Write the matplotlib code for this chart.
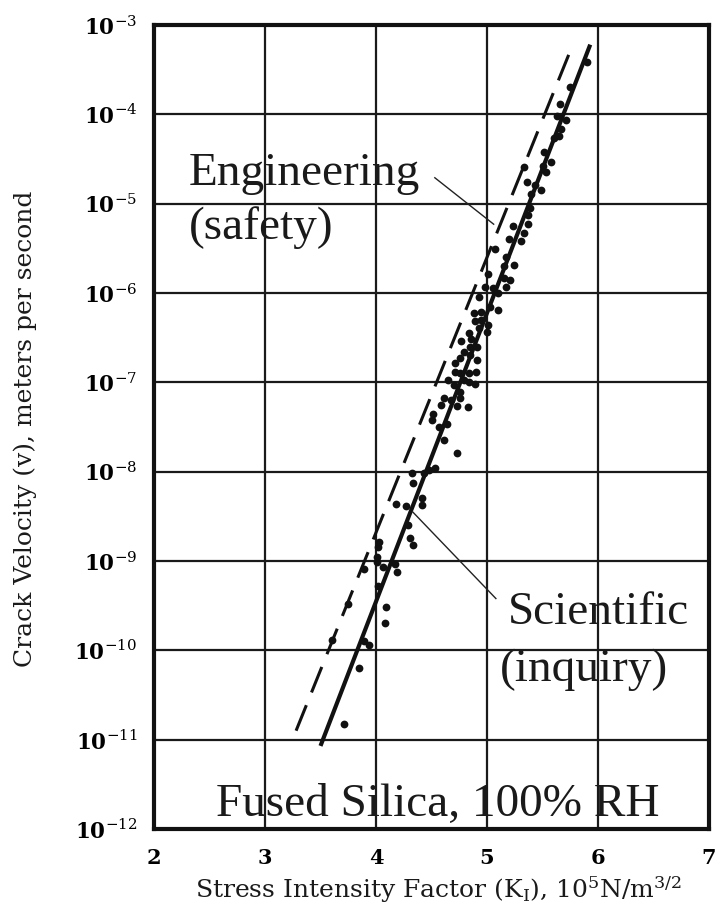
import matplotlib
matplotlib.use("Agg")
import matplotlib.pyplot as plt
from matplotlib.ticker import FixedLocator, FixedFormatter

plt.rcParams['mathtext.fontset'] = 'dejavuserif'

# ---- data ----
stress_k = [5.90, 5.75, 5.66, 5.63, 5.71, 5.67, 5.60, 5.65, 5.51, 5.58,
            5.50, 5.53, 5.33, 5.36, 5.43, 5.49, 5.40, 5.39, 5.37, 5.23,
            5.37, 5.33, 5.20, 5.31, 5.07, 5.17, 5.24, 5.15, 5.01, 5.15,
            5.21, 4.98, 5.05, 5.17, 5.10, 4.93,
            5.03, 5.10, 4.88, 4.95, 4.89, 4.95, 5.01, 4.93, 5.00, 4.84,
            4.86, 4.77, 4.85, 4.91, 4.79, 4.85, 4.71, 4.91, 4.76, 4.71,
            4.76, 4.84, 4.90, 4.65, 4.79, 4.84, 4.89, 4.70, 4.76, 4.76,
            4.61, 4.68, 4.59, 4.73, 4.83, 4.51, 4.50, 4.57, 4.64, 4.61,
            4.73, 4.53, 4.48, 4.43, 4.32, 4.33, 4.41,
            4.41, 4.18, 4.27, 4.29, 4.31, 4.33, 4.03, 4.02, 4.01, 4.01,
            3.89, 4.06, 4.17, 4.19, 4.02, 3.75, 4.09, 4.08, 3.60, 3.89,
            3.94, 3.85, 3.71]
velocity = [3.89e-4, 2.04e-4, 1.32e-4, 9.55e-5, 8.71e-5, 6.92e-5, 5.50e-5, 5.75e-5, 3.80e-5, 2.95e-5,
            2.63e-5, 2.24e-5, 2.57e-5, 1.74e-5, 1.62e-5, 1.41e-5, 1.29e-5, 8.91e-6, 7.41e-6, 5.62e-6,
            5.89e-6, 4.68e-6, 3.98e-6, 3.80e-6, 3.09e-6, 2.51e-6, 2.04e-6, 2.00e-6, 1.62e-6, 1.48e-6,
            1.41e-6, 1.17e-6, 1.15e-6, 1.17e-6, 1.00e-6, 8.91e-7,
            6.92e-7, 6.46e-7, 6.03e-7, 6.17e-7, 4.90e-7, 5.01e-7, 4.37e-7, 4.07e-7, 3.63e-7, 3.55e-7,
            3.02e-7, 2.88e-7, 2.51e-7, 2.51e-7, 2.19e-7, 2.00e-7, 1.66e-7, 1.78e-7, 1.86e-7, 1.29e-7,
            1.26e-7, 1.26e-7, 1.29e-7, 1.05e-7, 1.07e-7, 1.00e-7, 9.55e-8, 9.33e-8, 7.76e-8, 6.76e-8,
            6.61e-8, 6.31e-8, 5.62e-8, 5.50e-8, 5.25e-8, 4.37e-8, 3.80e-8, 3.16e-8, 3.39e-8, 2.24e-8,
            1.62e-8, 1.10e-8, 1.05e-8, 9.77e-9, 9.55e-9, 7.41e-9, 5.13e-9,
            4.27e-9, 4.37e-9, 4.17e-9, 2.51e-9, 1.82e-9, 1.51e-9, 1.62e-9, 1.45e-9, 1.12e-9, 9.77e-10,
            8.13e-10, 8.51e-10, 9.33e-10, 7.59e-10, 5.25e-10, 3.31e-10, 3.09e-10, 2.04e-10, 1.32e-10, 1.26e-10,
            1.15e-10, 6.31e-11, 1.51e-11]

scientific_k = [3.50, 5.93]
scientific_v = [8.51e-12, 6.03e-4]
engineering_k = [3.28, 5.76]
engineering_v = [1.26e-11, 5.50e-4]

eng_leader_k = [4.53, 5.06]
eng_leader_v = [1.95e-5, 5.89e-6]
sci_leader_k = [4.33, 5.08]
sci_leader_v = [3.55e-9, 3.80e-10]

x_ticks = [2, 3, 4, 5, 6, 7]
x_tick_labels = ["2", "3", "4", "5", "6", "7"]
y_ticks = [1e-12, 1e-11, 1e-10, 1e-9, 1e-8, 1e-7, 1e-6, 1e-5, 1e-4, 1e-3]
y_tick_labels = [r"$\mathbf{10}^{-%d}$" % n for n in [12, 11, 10, 9, 8, 7, 6, 5, 4, 3]]

# ---- figure ----
fig = plt.figure(figsize=(7.22, 9.23), dpi=100)
ax = fig.add_axes([154/722, 1-829/923, 555/722, 804/923])
ax.set_yscale('log')
ax.set_xlim(2, 7)
ax.set_ylim(1e-12, 1e-3)

ax.xaxis.set_major_locator(FixedLocator(x_ticks))
ax.xaxis.set_major_formatter(FixedFormatter(x_tick_labels))
ax.yaxis.set_major_locator(FixedLocator(y_ticks))
ax.yaxis.set_major_formatter(FixedFormatter(y_tick_labels))
ax.yaxis.set_minor_locator(FixedLocator([]))
ax.tick_params(axis='both', length=0)
ax.tick_params(axis='x', pad=14, labelsize=15)
ax.tick_params(axis='y', pad=12, labelsize=15.5)
for lab in ax.get_xticklabels():
    lab.set_fontfamily('DejaVu Serif')
    lab.set_fontweight('bold')

ax.grid(True, which='major', color='#1a1a1a', linewidth=1.6)
ax.set_axisbelow(True)
for s in ax.spines.values():
    s.set_linewidth(3)
    s.set_color('#111111')

ax.plot(scientific_k, scientific_v, color='#111111', lw=3, solid_capstyle='butt')
ax.plot(engineering_k, engineering_v, color='#111111', lw=2.2, dashes=(9, 4.5))
ax.plot(stress_k, velocity, 'o', color='#111111', ms=5.6, mew=0)
ax.plot(eng_leader_k, eng_leader_v, color='#222222', lw=1)
ax.plot(sci_leader_k, sci_leader_v, color='#222222', lw=1)

serif = 'Liberation Serif'
ax.text(2.31, 10**-4.79, "Engineering", fontsize=34, family=serif, color='#1a1a1a')
ax.text(2.31, 10**-5.39, "(safety)", fontsize=34, family=serif, color='#1a1a1a')
ax.text(5.19, 10**-9.70, "Scientific", fontsize=34, family=serif, color='#1a1a1a')
ax.text(5.12, 10**-10.34, "(inquiry)", fontsize=34, family=serif, color='#1a1a1a')
ax.text(2.56, 10**-11.85, "Fused Silica, 100% RH", fontsize=34, family=serif, color='#1a1a1a')

fig.text(0.035, 0.535, "Crack Velocity (v), meters per second", rotation=90,
         ha='center', va='center', fontsize=18, family='DejaVu Serif', color='#1a1a1a')
fig.text(0.608, 0.036, r"Stress Intensity Factor (K$_\mathrm{I}$), 10$^5$N/m$^{3/2}$",
         ha='center', va='center', fontsize=18, family='DejaVu Serif', color='#1a1a1a')

fig.savefig("out.png", dpi=100, facecolor='white')
